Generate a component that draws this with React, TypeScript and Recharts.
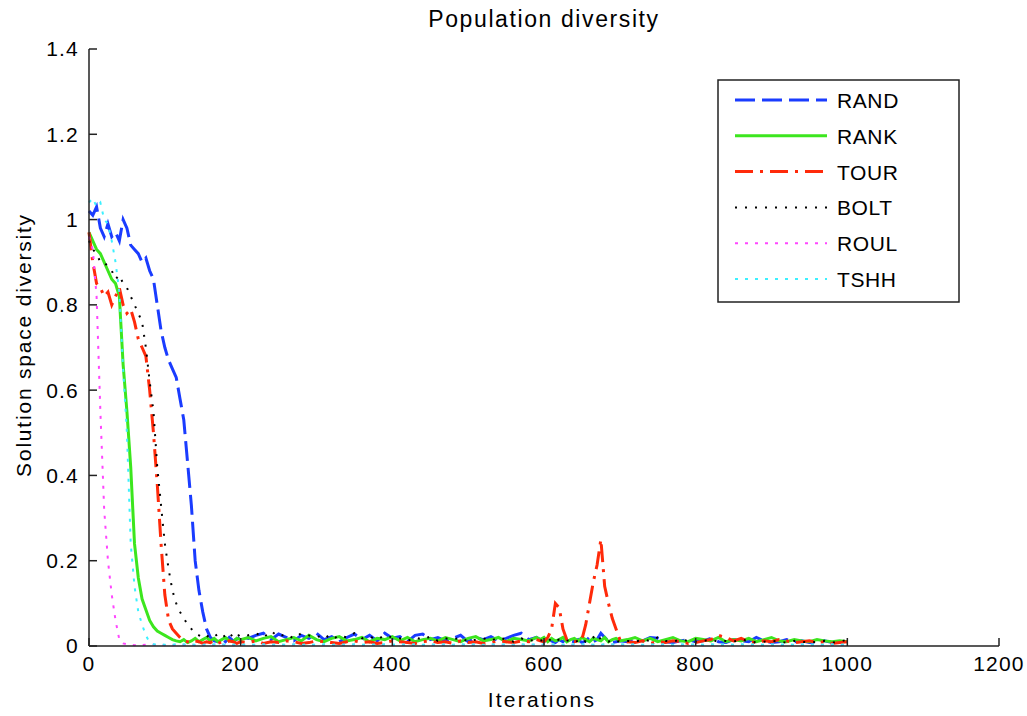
import React from "react";
import { Legend, Line, LineChart, XAxis, YAxis } from "recharts";

// iteration grid: dense where the curves move, coarser on the flat tail
const iterations = [
  0, 5, 10, 15, 20, 25, 30, 35, 40, 45, 50, 55, 60, 65, 70, 75, 80, 85, 90, 95, 100,
  105, 110, 115, 120, 125, 130, 135, 140, 145, 150, 155, 160, 165, 170, 175, 180, 185, 190, 195, 200,
  210, 220, 230, 240, 250, 260, 270, 280, 290, 300, 310, 320, 330, 340, 350, 360, 370, 380, 390,
  400, 410, 420, 430, 440, 450, 460, 470, 480, 490, 500, 510, 520, 530, 540, 550, 560, 570, 580, 590,
  595, 600, 605, 610, 615, 620, 625, 630, 635, 640, 645, 650, 655, 660, 665, 670, 675, 680, 685, 690, 695, 700,
  710, 720, 730, 740, 750, 760, 770, 780, 790, 800, 810, 820, 830, 840, 850, 860, 870, 880, 890, 900,
  910, 920, 930, 940, 950, 960, 970, 980, 990, 1000,
];

const rand = [
  1.02, 1.01, 1.03, 0.98, 0.96, 0.99, 0.96, 0.97, 0.95, 1.0, 0.98, 0.94, 0.93, 0.92, 0.9, 0.91, 0.88, 0.86, 0.8, 0.74, 0.7,
  0.67, 0.65, 0.63, 0.58, 0.53, 0.43, 0.33, 0.2, 0.13, 0.08, 0.04, 0.02, 0.012, 0.01, 0.018, 0.01, 0.02, 0.012, 0.016, 0.022,
  0.018, 0.025, 0.03, 0.015, 0.028, 0.02, 0.012, 0.025, 0.018, 0.03, 0.015, 0.022, 0.01, 0.02, 0.028, 0.015, 0.025, 0.012, 0.03,
  0.018, 0.022, 0.01, 0.025, 0.028, 0.015, 0.02, 0.012, 0.018, 0.025, 0.01, 0.02, 0.015, 0.022, 0.012, 0.018, 0.025, 0.03, 0.015, 0.02,
  0.015, 0.01, 0.02, 0.012, 0.008, 0.015, 0.01, 0.018, 0.012, 0.01, 0.015, 0.008, 0.012, 0.02, 0.01, 0.015, 0.03, 0.02, 0.012, 0.008, 0.01, 0.012,
  0.01, 0.015, 0.012, 0.02, 0.018, 0.01, 0.008, 0.012, 0.015, 0.01, 0.012, 0.018, 0.01, 0.008, 0.015, 0.012, 0.01, 0.02, 0.012, 0.008,
  0.01, 0.015, 0.01, 0.012, 0.008, 0.01, 0.012, 0.008, 0.01, 0.01,
];

const rank = [
  0.97, 0.95, 0.93, 0.92, 0.9, 0.88, 0.86, 0.85, 0.82, 0.66, 0.55, 0.42, 0.24, 0.16, 0.11, 0.085, 0.06, 0.045, 0.035, 0.03, 0.025,
  0.02, 0.015, 0.012, 0.01, 0.015, 0.008, 0.012, 0.018, 0.01, 0.015, 0.02, 0.012, 0.018, 0.01, 0.015, 0.02, 0.012, 0.01, 0.018, 0.015,
  0.02, 0.012, 0.018, 0.022, 0.01, 0.015, 0.02, 0.012, 0.025, 0.015, 0.01, 0.018, 0.022, 0.012, 0.015, 0.02, 0.01, 0.018, 0.015,
  0.022, 0.012, 0.02, 0.01, 0.015, 0.018, 0.012, 0.02, 0.015, 0.01, 0.018, 0.022, 0.012, 0.015, 0.02, 0.01, 0.018, 0.015, 0.012, 0.02,
  0.015, 0.02, 0.01, 0.018, 0.012, 0.015, 0.02, 0.01, 0.015, 0.018, 0.012, 0.02, 0.015, 0.01, 0.018, 0.015, 0.012, 0.02, 0.01, 0.015, 0.018, 0.012,
  0.015, 0.02, 0.012, 0.018, 0.01, 0.015, 0.02, 0.012, 0.01, 0.018, 0.015, 0.012, 0.02, 0.01, 0.015, 0.012, 0.018, 0.01, 0.015, 0.02,
  0.012, 0.01, 0.015, 0.012, 0.01, 0.015, 0.012, 0.01, 0.012, 0.01,
];

const tour = [
  0.97, 0.9, 0.85, 0.84, 0.82, 0.83, 0.8, 0.82, 0.84, 0.8, 0.78, 0.79, 0.76, 0.72, 0.7, 0.68, 0.6, 0.5, 0.38, 0.24, 0.12,
  0.06, 0.04, 0.03, 0.02, 0.012, 0.01, 0.008, 0.012, 0.01, 0.006, 0.01, 0.008, 0.012, 0.006, 0.01, 0.008, 0.012, 0.01, 0.006, 0.01,
  0.008, 0.012, 0.006, 0.01, 0.008, 0.012, 0.01, 0.006, 0.008, 0.012, 0.01, 0.008, 0.006, 0.01, 0.012, 0.008, 0.01, 0.006, 0.008,
  0.012, 0.01, 0.008, 0.006, 0.01, 0.012, 0.008, 0.01, 0.006, 0.012, 0.008, 0.01, 0.006, 0.008, 0.012, 0.01, 0.008, 0.012, 0.01, 0.015,
  0.012, 0.01, 0.02, 0.04, 0.1, 0.09, 0.04, 0.015, 0.012, 0.01, 0.012, 0.015, 0.05, 0.1, 0.15, 0.19, 0.25, 0.14, 0.1, 0.065, 0.04, 0.015,
  0.01, 0.008, 0.012, 0.006, 0.01, 0.008, 0.012, 0.01, 0.006, 0.008, 0.012, 0.015, 0.025, 0.02, 0.012, 0.018, 0.01, 0.008, 0.012, 0.01,
  0.015, 0.012, 0.008, 0.01, 0.012, 0.008, 0.01, 0.006, 0.008, 0.01,
];

const bolt = [
  0.95, 0.93, 0.92, 0.9, 0.9, 0.89, 0.88, 0.86, 0.87, 0.85, 0.84, 0.82, 0.8, 0.78, 0.76, 0.7, 0.62, 0.55, 0.42, 0.33, 0.24,
  0.18, 0.13, 0.1, 0.08, 0.065, 0.05, 0.04, 0.03, 0.025, 0.02, 0.025, 0.018, 0.022, 0.028, 0.02, 0.025, 0.018, 0.03, 0.022, 0.028,
  0.025, 0.03, 0.02, 0.035, 0.022, 0.028, 0.018, 0.03, 0.025, 0.02, 0.028, 0.015, 0.025, 0.02, 0.03, 0.018, 0.022, 0.015, 0.025,
  0.02, 0.018, 0.012, 0.02, 0.015, 0.022, 0.012, 0.018, 0.015, 0.02, 0.01, 0.015, 0.018, 0.012, 0.02, 0.015, 0.01, 0.018, 0.012, 0.015,
  0.012, 0.015, 0.01, 0.018, 0.012, 0.015, 0.01, 0.012, 0.015, 0.01, 0.012, 0.018, 0.01, 0.015, 0.02, 0.028, 0.015, 0.012, 0.01, 0.015, 0.012, 0.01,
  0.012, 0.01, 0.015, 0.012, 0.02, 0.012, 0.01, 0.015, 0.012, 0.01, 0.012, 0.015, 0.01, 0.012, 0.01, 0.015, 0.012, 0.008, 0.01, 0.012,
  0.01, 0.008, 0.012, 0.01, 0.008, 0.01, 0.012, 0.008, 0.01, 0.015,
];

const roul = [
  0.96, 0.93, 0.82, 0.55, 0.32, 0.2, 0.12, 0.06, 0.015, 0.006, 0.004, 0.003, 0.002, 0.003, 0.002, 0.003, 0.002, 0.003, 0.002, 0.003, 0.002,
  0.003, 0.002, 0.003, 0.002, 0.003, 0.002, 0.003, 0.002, 0.003, 0.002, 0.003, 0.002, 0.003, 0.002, 0.003, 0.002, 0.003, 0.002, 0.003, 0.002,
  0.003, 0.002, 0.003, 0.002, 0.003, 0.002, 0.003, 0.002, 0.003, 0.002, 0.003, 0.002, 0.003, 0.002, 0.003, 0.002, 0.003, 0.002, 0.003,
  0.002, 0.003, 0.002, 0.003, 0.002, 0.003, 0.002, 0.003, 0.002, 0.003, 0.002, 0.003, 0.002, 0.003, 0.002, 0.003, 0.002, 0.003, 0.002, 0.003,
  0.002, 0.003, 0.002, 0.003, 0.002, 0.003, 0.002, 0.003, 0.002, 0.003, 0.002, 0.003, 0.002, 0.003, 0.002, 0.003, 0.002, 0.003, 0.002, 0.003, 0.002, 0.003,
  0.002, 0.003, 0.002, 0.003, 0.002, 0.003, 0.002, 0.003, 0.002, 0.003, 0.002, 0.003, 0.002, 0.003, 0.002, 0.003, 0.002, 0.003, 0.002, 0.003,
  0.002, 0.003, 0.002, 0.003, 0.002, 0.003, 0.002, 0.003, 0.002, 0.003,
];

const tshh = [
  1.04, 1.05, 1.03, 1.04, 1.0, 0.99, 0.95, 0.9, 0.83, 0.65, 0.5, 0.24, 0.14, 0.08, 0.05, 0.025, 0.008, 0.004, 0.003, 0.004, 0.003,
  0.004, 0.003, 0.004, 0.003, 0.004, 0.003, 0.004, 0.003, 0.004, 0.003, 0.004, 0.003, 0.004, 0.003, 0.004, 0.003, 0.004, 0.003, 0.004, 0.003,
  0.004, 0.003, 0.004, 0.003, 0.004, 0.003, 0.004, 0.003, 0.004, 0.003, 0.004, 0.003, 0.004, 0.003, 0.004, 0.003, 0.004, 0.003, 0.004,
  0.003, 0.004, 0.003, 0.004, 0.003, 0.004, 0.003, 0.004, 0.003, 0.004, 0.003, 0.004, 0.003, 0.004, 0.003, 0.004, 0.003, 0.004, 0.003, 0.004,
  0.003, 0.004, 0.003, 0.004, 0.003, 0.004, 0.003, 0.004, 0.003, 0.004, 0.003, 0.004, 0.003, 0.004, 0.003, 0.004, 0.003, 0.004, 0.003, 0.004, 0.003, 0.004,
  0.003, 0.004, 0.003, 0.004, 0.003, 0.004, 0.003, 0.004, 0.003, 0.004, 0.003, 0.004, 0.003, 0.004, 0.003, 0.004, 0.003, 0.004, 0.003, 0.004,
  0.003, 0.004, 0.003, 0.004, 0.003, 0.004, 0.003, 0.004, 0.003, 0.004,
];

const xTicks = [0, 200, 400, 600, 800, 1000, 1200];
const yTicks = [0, 0.2, 0.4, 0.6, 0.8, 1, 1.2, 1.4];

const series = [
  { key: "RAND", color: "#1a3cff", width: 3, dash: "20 7" },
  { key: "RANK", color: "#3ce61e", width: 3, dash: undefined },
  { key: "TOUR", color: "#ff2a0a", width: 3, dash: "18 7 3 7" },
  { key: "BOLT", color: "#000000", width: 2, dash: "2 8" },
  { key: "ROUL", color: "#ff46ff", width: 2, dash: "3 7" },
  { key: "TSHH", color: "#3cf0ff", width: 2, dash: "3 7" },
];

const data = iterations.map((it, i) => ({
  it,
  RAND: rand[i],
  RANK: rank[i],
  TOUR: tour[i],
  BOLT: bolt[i],
  ROUL: roul[i],
  TSHH: tshh[i],
}));

const FONT = '"Liberation Sans", Arial, Helvetica, sans-serif';

function LegendBox() {
  return (
    <svg width={244} height={225} style={{ display: "block" }}>
      <rect x={1} y={1} width={241} height={222} fill="#fff" stroke="#222" strokeWidth={1.5} />
      {series.map((s, i) => {
        const base = 29 + i * 35.8;
        return (
          <g key={s.key}>
            <line x1={18} x2={110} y1={base - 8} y2={base - 8} stroke={s.color} strokeWidth={s.width} strokeDasharray={s.dash} />
            <text x={120} y={base} fontSize={21} fill="#000" style={{ letterSpacing: "0.6px" }}>
              {s.key}
            </text>
          </g>
        );
      })}
    </svg>
  );
}

export default function App() {
  const axisStroke = { stroke: "#222", strokeWidth: 1.5 };
  return (
    <div style={{ position: "absolute", left: 0, top: 0, width: 1027, height: 716, background: "#fff", fontFamily: FONT }}>
      <LineChart width={1027} height={716} data={data} margin={{ top: 49, right: 28, bottom: 0, left: 0 }}>
        <XAxis
          dataKey="it"
          type="number"
          domain={[0, 1200]}
          ticks={xTicks}
          interval={0}
          height={70}
          axisLine={axisStroke}
          tickLine={axisStroke}
          tickSize={-8}
          tickMargin={18}
          tick={{ fill: "#000", fontSize: 21, style: { letterSpacing: "1.2px" } }}
        />
        <XAxis
          xAxisId="top"
          orientation="top"
          type="number"
          domain={[0, 1200]}
          ticks={xTicks}
          interval={0}
          height={0}
          axisLine={axisStroke}
          tickLine={axisStroke}
          tickSize={-8}
          tick={false}
        />
        <YAxis
          type="number"
          domain={[0, 1.4]}
          ticks={yTicks}
          interval={0}
          width={89}
          axisLine={axisStroke}
          tickLine={axisStroke}
          tickSize={-8}
          tickMargin={18}
          tick={{ fill: "#000", fontSize: 21, style: { letterSpacing: "1.2px" } }}
        />
        <YAxis
          yAxisId="right"
          orientation="right"
          type="number"
          domain={[0, 1.4]}
          ticks={yTicks}
          interval={0}
          width={0}
          axisLine={axisStroke}
          tickLine={axisStroke}
          tickSize={-8}
          tick={false}
        />
        <Legend
          layout="horizontal"
          verticalAlign="middle"
          align="center"
          content={() => <LegendBox />}
          wrapperStyle={{ left: 717, top: 79, width: 244, height: 225 }}
        />
        {series.map((s) => (
          <Line
            key={s.key}
            dataKey={s.key}
            type="linear"
            stroke={s.color}
            strokeWidth={s.width}
            strokeDasharray={s.dash}
            dot={false}
            activeDot={false}
            isAnimationActive={false}
          />
        ))}
      </LineChart>
      <svg width={1027} height={716} style={{ position: "absolute", left: 0, top: 0, pointerEvents: "none" }}>
        <text x={544} y={27} textAnchor="middle" fontSize={23} fill="#000" style={{ letterSpacing: "1.6px" }}>
          Population diversity
        </text>
        <text x={542} y={707} textAnchor="middle" fontSize={21} fill="#000" style={{ letterSpacing: "2.2px" }}>
          Iterations
        </text>
        <text
          x={0}
          y={0}
          transform="translate(31 345) rotate(-90)"
          textAnchor="middle"
          fontSize={21}
          fill="#000"
          style={{ letterSpacing: "1.8px" }}
        >
          Solution space diversity
        </text>
      </svg>
    </div>
  );
}
